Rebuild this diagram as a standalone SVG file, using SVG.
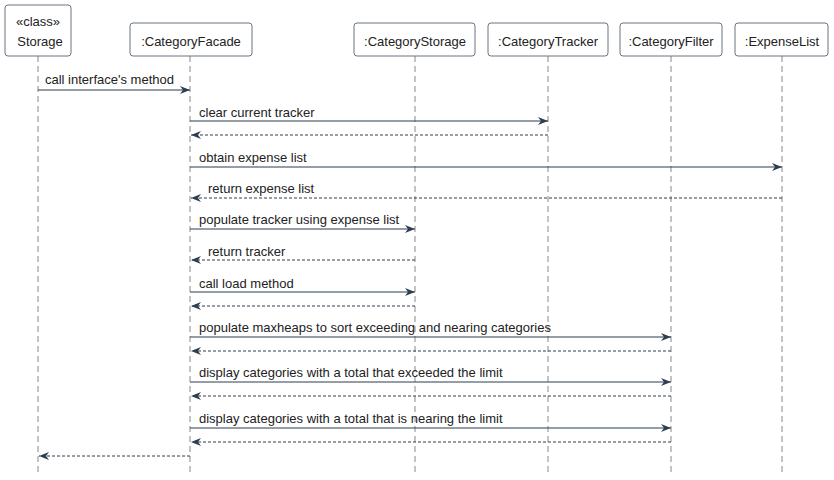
<svg xmlns="http://www.w3.org/2000/svg" width="834" height="480" viewBox="0 0 834 480">
<defs>
<style>
text{font-family:"Liberation Sans",Arial,sans-serif;font-size:13px;fill:#222}
.box{fill:#fff;stroke:#6b7480;stroke-width:1}
.life{stroke:#888;stroke-width:1;stroke-dasharray:6,4;fill:none}
.msg{stroke:#2c3e50;stroke-width:1.2;fill:none;marker-end:url(#a)}
.ret{stroke:#2c3e50;stroke-width:1;stroke-dasharray:3,2;fill:none;marker-end:url(#a)}
</style>
<marker id="a" viewBox="0 0 10 10" refX="10" refY="5" markerWidth="10" markerHeight="10" markerUnits="userSpaceOnUse" orient="auto"><path d="M0,1 L10,5 L0,9 L3,5 Z" fill="#2c3e50"/></marker>
</defs>
<g id="lifelines">
<line class="life" x1="38" y1="56" x2="38" y2="472"/>
<line class="life" x1="190" y1="56" x2="190" y2="472"/>
<line class="life" x1="415" y1="56" x2="415" y2="472"/>
<line class="life" x1="548" y1="56" x2="548" y2="472"/>
<line class="life" x1="671" y1="56" x2="671" y2="472"/>
<line class="life" x1="782" y1="56" x2="782" y2="472"/>
</g>
<g id="Storage"><rect class="box" x="5" y="5" width="66" height="51" rx="3"/><text x="38" y="26" text-anchor="middle">«class»</text><text x="40" y="46" text-anchor="middle">Storage</text></g>
<g id="CategoryFacade"><rect class="box" x="130" y="23" width="122" height="33" rx="3"/><text x="191" y="46" text-anchor="middle">:CategoryFacade</text></g>
<g id="CategoryStorage"><rect class="box" x="354" y="23" width="121" height="33" rx="3"/><text x="415" y="46" text-anchor="middle">:CategoryStorage</text></g>
<g id="CategoryTracker"><rect class="box" x="488" y="23" width="120" height="33" rx="3"/><text x="548" y="46" text-anchor="middle">:CategoryTracker</text></g>
<g id="CategoryFilter"><rect class="box" x="620" y="23" width="102" height="33" rx="3"/><text x="671" y="46" text-anchor="middle">:CategoryFilter</text></g>
<g id="ExpenseList"><rect class="box" x="735" y="23" width="93" height="33" rx="3"/><text x="782" y="46" text-anchor="middle">:ExpenseList</text></g>
<g id="connectors">
<line class="msg" x1="38" y1="90" x2="190" y2="90"/><text x="45" y="84">call interface's method</text>
<line class="msg" x1="190" y1="121" x2="548" y2="121"/><text x="199" y="117">clear current tracker</text>
<line class="ret" x1="548" y1="135" x2="191" y2="135"/>
<line class="msg" x1="190" y1="167" x2="782" y2="167"/><text x="199" y="162">obtain expense list</text>
<line class="ret" x1="782" y1="198" x2="191" y2="198"/><text x="208" y="193">return expense list</text>
<line class="msg" x1="190" y1="229" x2="415" y2="229"/><text x="199" y="224">populate tracker using expense list</text>
<line class="ret" x1="415" y1="260" x2="191" y2="260"/><text x="208" y="256">return tracker</text>
<line class="msg" x1="190" y1="292" x2="415" y2="292"/><text x="199" y="288">call load method</text>
<line class="ret" x1="415" y1="306" x2="191" y2="306"/>
<line class="msg" x1="190" y1="337" x2="671" y2="337"/><text x="199" y="332">populate maxheaps to sort exceeding and nearing categories</text>
<line class="ret" x1="671" y1="351" x2="191" y2="351"/>
<line class="msg" x1="190" y1="382" x2="671" y2="382"/><text x="199" y="377">display categories with a total that exceeded the limit</text>
<line class="ret" x1="671" y1="396" x2="191" y2="396"/>
<line class="msg" x1="190" y1="428" x2="671" y2="428"/><text x="199" y="423">display categories with a total that is nearing the limit</text>
<line class="ret" x1="671" y1="442" x2="191" y2="442"/>
<line class="ret" x1="190" y1="456" x2="39" y2="456"/>
</g>
</svg>
